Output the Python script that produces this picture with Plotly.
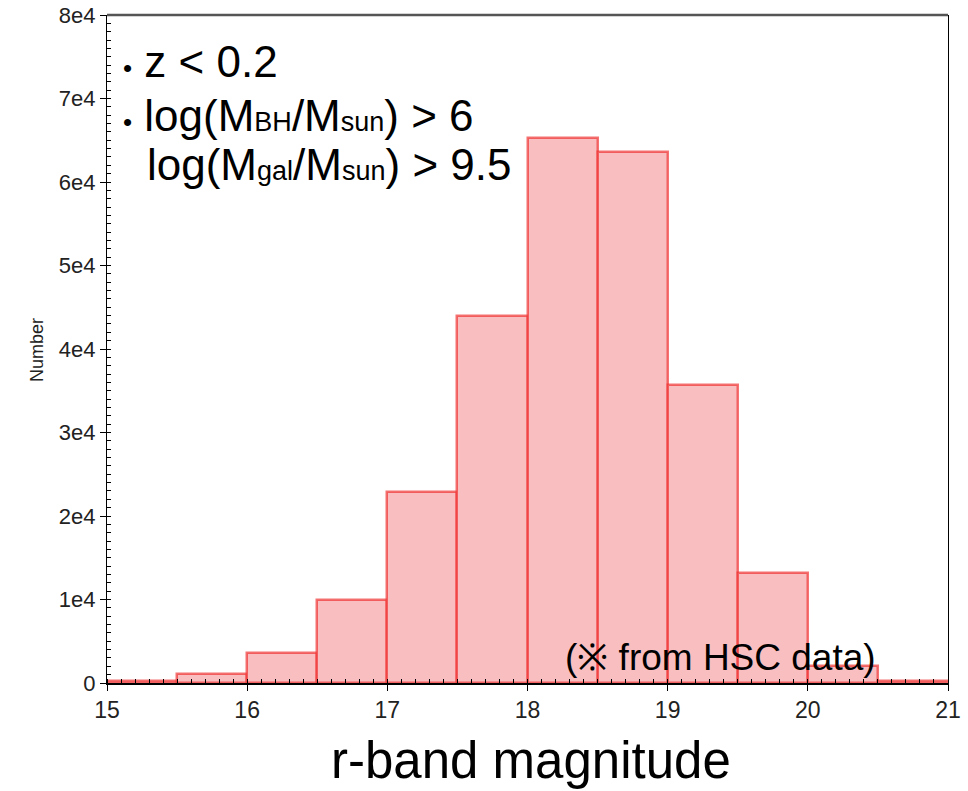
import plotly.graph_objects as go

# r-band magnitude histogram (bin width 0.5 mag)
bin_left = [15.0, 15.5, 16.0, 16.5, 17.0, 17.5, 18.0, 18.5, 19.0, 19.5, 20.0, 20.5]
counts = [250, 1100, 3600, 10000, 22900, 43900, 65300, 63600, 35700, 13200, 2000, 250]
bin_width = 0.5

y_tick_vals = [0, 10000, 20000, 30000, 40000, 50000, 60000, 70000, 80000]
y_tick_text = ["0", "1e4", "2e4", "3e4", "4e4", "5e4", "6e4", "7e4", "8e4"]
x_tick_vals = [15, 16, 17, 18, 19, 20, 21]

FONT = "Liberation Sans, Arial, Helvetica, sans-serif"

fig = go.Figure()
fig.add_trace(go.Bar(
    x=bin_left,
    y=counts,
    width=[bin_width] * len(bin_left),
    offset=0,
    marker=dict(color="rgb(249,190,192)",
                line=dict(color="rgba(240,40,40,0.65)", width=2.5)),
    hoverinfo="x+y",
))

fig.update_layout(
    width=968, height=791,
    margin=dict(l=107, r=20, t=15, b=108),
    paper_bgcolor="white", plot_bgcolor="white",
    showlegend=False,
    bargap=0,
    font=dict(family=FONT, color="#111"),
)

fig.update_xaxes(
    range=[15, 21],
    automargin=False,
    tickmode="array",
    tickvals=x_tick_vals,
    ticktext=[str(v) for v in x_tick_vals],
    ticks="outside", ticklen=6, tickwidth=1.3, tickcolor="black",
    tickfont=dict(size=23, color="#222", family=FONT),
    showline=True, linecolor="black", linewidth=1.5,
    showgrid=False, zeroline=False,
    minor=dict(ticks="inside", ticklen=4, dtick=0.1, tickcolor="black",
               tickwidth=1, showgrid=False),
)
fig.update_yaxes(
    range=[0, 80000],
    automargin=False,
    tickmode="array",
    tickvals=y_tick_vals, ticktext=y_tick_text,
    ticks="outside", ticklen=6, tickwidth=1.3, tickcolor="black",
    tickfont=dict(size=22, color="#222", family=FONT),
    showline=True, linecolor="black", linewidth=1.3, mirror=True,
    showgrid=False, zeroline=False,
    minor=dict(ticks="inside", ticklen=4, dtick=1000, tickcolor="black",
               tickwidth=1, showgrid=False),
)

# heavier frame line along the top edge
fig.add_shape(type="line", xref="paper", yref="paper", x0=0, x1=1, y0=1, y1=1,
              line=dict(color="#555", width=2.5))

def px_x(p):
    return (p - 107) / 841.0

def px_y(p):
    return (683 - p) / 668.0

SUB = '<span style="font-size:27px">{}</span>'
BULLET = '<span style="font-size:26px">•</span> '
big = dict(family=FONT, size=44, color="black")
fig.add_annotation(xref="paper", yref="paper", x=px_x(121), y=px_y(88),
                   xanchor="left", yanchor="bottom", showarrow=False,
                   text=BULLET + "z < 0.2", font=big)
fig.add_annotation(xref="paper", yref="paper", x=px_x(121), y=px_y(142),
                   xanchor="left", yanchor="bottom", showarrow=False,
                   text=BULLET + "log(M" + SUB.format("BH") + "/M" + SUB.format("sun") + ") > 6",
                   font=big)
fig.add_annotation(xref="paper", yref="paper", x=px_x(145), y=px_y(191),
                   xanchor="left", yanchor="bottom", showarrow=False,
                   text="log(M" + SUB.format("gal") + "/M" + SUB.format("sun") + ") > 9.5",
                   font=big)
fig.add_annotation(xref="paper", yref="paper", x=px_x(720), y=px_y(657),
                   xanchor="center", yanchor="middle", showarrow=False,
                   text="(※ from HSC data)", font=dict(family=FONT, size=37, color="black"))

# axis titles
fig.add_annotation(xref="paper", yref="paper", x=px_x(531), y=px_y(760),
                   xanchor="center", yanchor="middle", showarrow=False,
                   text="r-band magnitude", font=dict(family=FONT, size=51, color="black"))
fig.add_annotation(xref="paper", yref="paper", x=px_x(37), y=px_y(350),
                   xanchor="center", yanchor="middle", showarrow=False, textangle=-90,
                   text="Number", font=dict(family=FONT, size=18, color="#222"))

fig.write_html("out.html")
